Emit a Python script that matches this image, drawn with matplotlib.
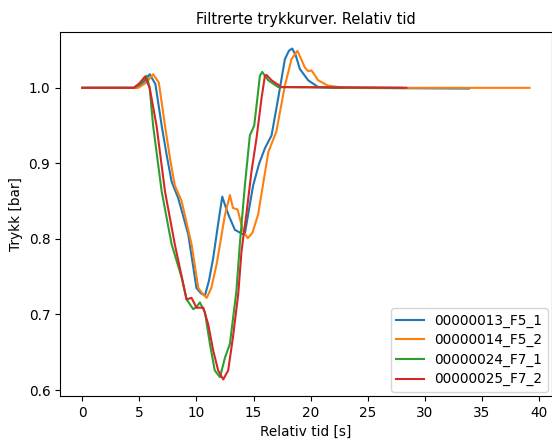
import matplotlib
matplotlib.use("Agg")
import matplotlib.pyplot as plt

# Data
t_13 = [0, 4.7, 5.3, 5.9, 6.4, 6.95, 7.4, 7.82, 8.4, 9.28, 10.0, 10.4, 10.74, 11.1, 11.47,
        11.9, 12.26, 12.5, 12.8, 13.37, 14.1, 14.25, 14.97, 15.5, 16.0, 16.58, 17.16, 17.75,
        18.1, 18.39, 18.7, 19.06, 19.79, 20.67, 22.0, 33.9]
p_13 = [1.0, 1.0, 1.006, 1.018, 1.005, 0.950, 0.910, 0.876, 0.854, 0.806, 0.735, 0.728, 0.725,
        0.745, 0.775, 0.820, 0.856, 0.845, 0.832, 0.812, 0.806, 0.808, 0.871, 0.900, 0.920,
        0.937, 0.986, 1.038, 1.049, 1.052, 1.043, 1.025, 1.010, 1.001, 1.0, 0.999]

t_14 = [0, 4.9, 5.6, 6.2, 6.7, 7.24, 7.7, 8.1, 8.7, 9.57, 10.16, 10.5, 10.9, 11.3, 11.76,
        12.5, 12.93, 13.2, 13.6, 14.1, 14.5, 14.9, 15.4, 16.3, 17.0, 17.75, 18.33, 18.85,
        19.5, 19.8, 20.08, 20.67, 21.5, 23.0, 39.2]
p_14 = [1.0, 1.0, 1.007, 1.018, 1.007, 0.950, 0.905, 0.871, 0.850, 0.793, 0.735, 0.728, 0.722,
        0.735, 0.766, 0.832, 0.858, 0.841, 0.839, 0.810, 0.801, 0.808, 0.832, 0.915, 0.942,
        1.003, 1.038, 1.049, 1.027, 1.022, 1.023, 1.010, 1.003, 1.0, 1.0]

t_24 = [0, 4.5, 5.0, 5.63, 5.9, 6.2, 6.95, 7.82, 8.7, 9.13, 9.72, 10.0, 10.3, 10.74, 11.18,
        11.6, 12.06, 12.5, 12.93, 13.5, 13.8, 14.25, 14.68, 15.06, 15.27, 15.56, 15.76, 16.29,
        17.16, 28.0]
p_24 = [1.0, 1.0, 1.004, 1.016, 1.0, 0.950, 0.863, 0.793, 0.749, 0.720, 0.707, 0.710, 0.716,
        0.703, 0.661, 0.626, 0.617, 0.643, 0.661, 0.731, 0.793, 0.872, 0.937, 0.950, 0.977,
        1.016, 1.021, 1.010, 1.001, 1.0]

t_25 = [0, 4.5, 5.0, 5.49, 5.9, 6.5, 7.24, 8.1, 8.85, 9.13, 9.57, 10.0, 10.6, 11.03, 11.47,
        11.9, 12.35, 12.78, 13.2, 13.66, 13.95, 14.4, 14.82, 15.26, 15.7, 16.0, 16.14, 16.58,
        17.45, 28.4]
p_25 = [1.0, 1.0, 1.006, 1.015, 1.0, 0.950, 0.863, 0.793, 0.740, 0.720, 0.722, 0.709, 0.709,
        0.687, 0.652, 0.626, 0.614, 0.626, 0.670, 0.727, 0.784, 0.836, 0.889, 0.933, 0.986,
        1.016, 1.017, 1.010, 1.001, 1.0]

labels = ["00000013_F5_1", "00000014_F5_2", "00000024_F7_1", "00000025_F7_2"]

fig = plt.figure(figsize=(5.52, 4.43), dpi=100)
ax = fig.add_axes([60 / 552, 1 - 396 / 443, 1 - 60 / 552, (396 - 32) / 443])

ax.plot(t_13, p_13, label=labels[0], lw=1.5)
ax.plot(t_14, p_14, label=labels[1], lw=1.5)
ax.plot(t_24, p_24, label=labels[2], lw=1.5)
ax.plot(t_25, p_25, label=labels[3], lw=1.5)

ax.set_xticks([0, 5, 10, 15, 20, 25, 30, 35, 40])
ax.set_yticks([0.6, 0.7, 0.8, 0.9, 1.0])
ax.tick_params(labelsize=9.8)
ax.set_xlabel("Relativ tid [s]", fontsize=9.8)
ax.set_ylabel("Trykk [bar]", fontsize=9.8)
ax.set_title("Filtrerte trykkurver. Relativ tid", fontsize=10.5)
ax.legend(loc="lower right", fontsize=9.8, borderaxespad=0.3, labelspacing=0.4)

fig.savefig("out.png", dpi=100)
